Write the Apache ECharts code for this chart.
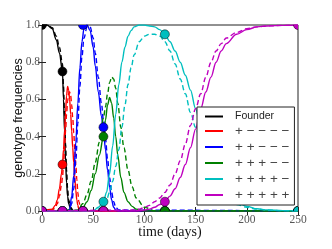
<!DOCTYPE html>
<html><head><meta charset="utf-8">
<script src="https://cdn.jsdelivr.net/npm/echarts@6/dist/echarts.min.js"></script>
<style>html,body{margin:0;padding:0;background:#fff}#c{width:332px;height:249px}</style>
</head><body><div id="c"></div>
<script>
// ---- data ----
const genotypeNames = ['Founder', '+ \u2212 \u2212 \u2212 \u2212', '+ + \u2212 \u2212 \u2212', '+ + + \u2212 \u2212', '+ + + + \u2212', '+ + + + +'];
const colors = ['#000000', '#ff0000', '#0000ff', '#008000', '#00bfbf', '#bf00bf'];

const founderDays   = [0, 5, 10, 14, 17, 20, 21, 22, 23, 24, 25, 26, 28, 30, 35, 250];
const founderModel  = [1, 1, 0.98, 0.92, 0.85, 0.75, 0.6, 0.43, 0.27, 0.15, 0.08, 0.04, 0.01, 0, 0, 0];
const founderSim    = [1, 1, 0.985, 0.94, 0.88, 0.79, 0.67, 0.52, 0.36, 0.22, 0.12, 0.06, 0.02, 0.005, 0, 0];

const redDays  = [0, 10, 13, 15, 17, 19, 20, 21, 22, 23, 24, 25, 26, 27, 28, 29, 30, 31, 32, 33, 34, 35, 36, 38, 40, 250];
const redModel = [0, 0.01, 0.03, 0.06, 0.12, 0.2, 0.25, 0.33, 0.43, 0.53, 0.62, 0.67, 0.65, 0.6, 0.52, 0.43, 0.34, 0.26, 0.18, 0.11, 0.06, 0.03, 0.01, 0, 0, 0];
const redSim   = [0, 0.005, 0.02, 0.04, 0.08, 0.14, 0.18, 0.25, 0.33, 0.43, 0.52, 0.59, 0.63, 0.64, 0.62, 0.57, 0.5, 0.42, 0.33, 0.25, 0.17, 0.1, 0.05, 0.01, 0, 0];

const blueDays  = [0, 25, 27, 29, 31, 33, 35, 37, 39, 41, 44, 47, 50, 52, 55, 58, 60, 62, 64, 66, 68, 70, 72, 75, 250];
const blueModel = [0, 0, 0.01, 0.08, 0.19, 0.37, 0.58, 0.77, 0.91, 0.98, 1.0, 0.97, 0.88, 0.78, 0.64, 0.51, 0.44, 0.33, 0.22, 0.13, 0.06, 0.02, 0.005, 0, 0];
const blueSim   = [0, 0, 0.005, 0.04, 0.12, 0.27, 0.47, 0.67, 0.83, 0.93, 0.99, 0.99, 0.93, 0.85, 0.72, 0.58, 0.49, 0.39, 0.28, 0.18, 0.1, 0.05, 0.02, 0.005, 0];

const greenDays  = [0, 35, 40, 44, 48, 52, 56, 60, 62, 64, 66, 68, 70, 72, 74, 77, 80, 84, 88, 92, 100, 110, 250];
const greenModel = [0, 0, 0.02, 0.05, 0.11, 0.2, 0.3, 0.4, 0.49, 0.57, 0.61, 0.58, 0.5, 0.4, 0.3, 0.18, 0.1, 0.05, 0.025, 0.01, 0, 0, 0];
const greenSim   = [0, 0.005, 0.04, 0.09, 0.16, 0.26, 0.37, 0.5, 0.56, 0.63, 0.69, 0.72, 0.71, 0.66, 0.58, 0.45, 0.34, 0.22, 0.13, 0.07, 0.02, 0, 0];

const cyanDays  = [0, 50, 55, 60, 63, 66, 69, 72, 75, 78, 81, 84, 87, 90, 95, 100, 105, 110, 115, 120, 125, 130, 135, 140, 145, 150, 155, 160, 165, 170, 175, 180, 190, 200, 210, 220, 235, 250];
const cyanModel = [0, 0, 0.02, 0.05, 0.1, 0.2, 0.35, 0.52, 0.68, 0.8, 0.88, 0.94, 0.97, 0.99, 1.0, 1.0, 0.995, 0.99, 0.975, 0.95, 0.91, 0.86, 0.8, 0.73, 0.65, 0.55, 0.45, 0.35, 0.26, 0.19, 0.13, 0.09, 0.045, 0.025, 0.012, 0.006, 0.002, 0];
const cyanSim   = [0, 0, 0.01, 0.03, 0.06, 0.1, 0.16, 0.24, 0.33, 0.45, 0.57, 0.68, 0.77, 0.84, 0.91, 0.94, 0.95, 0.95, 0.94, 0.91, 0.86, 0.79, 0.71, 0.63, 0.53, 0.45, 0.36, 0.27, 0.2, 0.14, 0.1, 0.07, 0.035, 0.02, 0.01, 0.005, 0.002, 0];

const magentaDays  = [0, 90, 95, 100, 105, 110, 115, 120, 125, 130, 135, 140, 145, 150, 155, 160, 165, 170, 175, 180, 190, 200, 210, 220, 235, 250];
const magentaModel = [0, 0, 0.002, 0.005, 0.01, 0.02, 0.035, 0.05, 0.08, 0.12, 0.18, 0.25, 0.34, 0.44, 0.55, 0.64, 0.72, 0.8, 0.86, 0.9, 0.95, 0.975, 0.99, 0.995, 0.998, 1.0];
const magentaSim   = [0, 0.005, 0.01, 0.02, 0.03, 0.05, 0.07, 0.1, 0.14, 0.2, 0.27, 0.36, 0.46, 0.55, 0.63, 0.72, 0.8, 0.86, 0.9, 0.93, 0.96, 0.98, 0.99, 0.995, 0.998, 1.0];

// observed frequencies (markers)
const obsDays     = [0, 20, 40, 60, 120, 250];
const founderObs  = [1, 0.75, 0, 0, 0, 0];
const redObs      = [0, 0.25, 0, 0, 0, 0];
const blueObs     = [0, 0, 1, 0.45, 0, 0];
const greenObs    = [0, 0, 0, 0.4, 0, 0];
const cyanObs     = [0, 0, 0, 0.05, 0.95, 0];
const magentaObs  = [0, 0, 0, 0, 0.05, 1];

const xTicks = [0, 50, 100, 150, 200, 250];
const yTicks = [0, 0.2, 0.4, 0.6, 0.8, 1.0];

// ---- build ----
const zip = (a, b) => a.map((t, i) => [t, b[i]]);
const groups = [
  [founderDays, founderModel, founderSim, founderObs],
  [redDays, redModel, redSim, redObs],
  [blueDays, blueModel, blueSim, blueObs],
  [greenDays, greenModel, greenSim, greenObs],
  [cyanDays, cyanModel, cyanSim, cyanObs],
  [magentaDays, magentaModel, magentaSim, magentaObs]
];

const series = [];
groups.forEach((g, i) => {
  series.push({
    name: genotypeNames[i], type: 'line', data: zip(g[0], g[1]),
    showSymbol: false, smooth: 0.35, smoothMonotone: 'x', clip: true,
    color: colors[i], lineStyle: {width: 1.4, color: colors[i]}, z: 2 + i * 0.1, silent: true
  });
  series.push({
    name: genotypeNames[i] + ' sim', type: 'line', data: zip(g[0], g[2]),
    showSymbol: false, smooth: 0.35, smoothMonotone: 'x', clip: true,
    color: colors[i], lineStyle: {width: 1.4, color: colors[i], type: [5, 3]}, z: 2 + i * 0.1 + 0.05, silent: true
  });
});
groups.forEach((g, i) => {
  series.push({
    name: genotypeNames[i] + ' obs', type: 'custom', data: zip(obsDays, g[3]), clip: true, z: 5 + i * 0.1,
    renderItem: (params, api) => {
      const p = api.coord([api.value(0), api.value(1)]);
      return {type: 'circle', shape: {cx: p[0], cy: p[1], r: 4.5},
        style: {fill: colors[i], stroke: '#000', lineWidth: 0.5}};
    }
  });
});

const serif = 'Liberation Serif';
const chart = echarts.init(document.getElementById('c'), null, {renderer: 'canvas'});
chart.setOption({
  animation: false,
  backgroundColor: '#fff',
  grid: {left: 42, right: 34, top: 25, bottom: 38, containLabel: false, outerBoundsMode: 'none',
    show: true, borderColor: '#222', borderWidth: 1, backgroundColor: 'transparent'},
  legend: {
    data: genotypeNames, orient: 'vertical', left: 197, top: 107,
    backgroundColor: '#fff', borderColor: '#222', borderWidth: 1, borderRadius: 0,
    padding: [4, 5, 3, 8], itemGap: 2, itemWidth: 18, itemHeight: 2, icon: 'rect',
    formatter: n => n === 'Founder' ? '{a|' + n + '}' : '{b|' + n + '}',
    textStyle: {
      color: '#222', padding: [0, 0, 0, 7],
      rich: {
        a: {fontFamily: 'Liberation Sans', fontSize: 10.5, lineHeight: 14, color: '#222'},
        b: {fontFamily: 'Liberation Sans', fontSize: 13.5, lineHeight: 14, color: '#444'}
      }
    }
  },
  xAxis: [{
    type: 'value', min: 0, max: 250, interval: 50, position: 'bottom',
    name: 'time (days)', nameLocation: 'middle', nameGap: 14, nameMoveOverlap: false,
    nameTextStyle: {fontFamily: serif, fontSize: 14, color: '#111'},
    axisLine: {show: false}, splitLine: {show: false},
    axisTick: {show: true, inside: true, length: 4, lineStyle: {color: '#222'}},
    axisLabel: {fontFamily: serif, fontSize: 11.5, color: '#555', margin: 3, formatter: v => xTicks.includes(v) ? String(v) : ''}
  }, {
    type: 'value', min: 0, max: 250, interval: 50, position: 'top',
    axisLine: {show: false}, splitLine: {show: false}, axisLabel: {show: false},
    axisTick: {show: true, inside: true, length: 4, lineStyle: {color: '#222'}}
  }],
  yAxis: [{
    type: 'value', min: 0, max: 1, interval: 0.2, position: 'left',
    name: 'genotype frequencies', nameLocation: 'middle', nameGap: 17, nameMoveOverlap: false,
    nameTextStyle: {fontFamily: 'Liberation Sans', fontSize: 12.5, color: '#111'},
    axisLine: {show: false}, splitLine: {show: false},
    axisTick: {show: true, inside: true, length: 4, lineStyle: {color: '#222'}},
    axisLabel: {fontFamily: serif, fontSize: 11.5, color: '#555', margin: 2, formatter: v => v.toFixed(1)}
  }, {
    type: 'value', min: 0, max: 1, interval: 0.2, position: 'right',
    axisLine: {show: false}, splitLine: {show: false}, axisLabel: {show: false},
    axisTick: {show: true, inside: true, length: 4, lineStyle: {color: '#222'}}
  }],
  series: series
});
</script></body></html>
